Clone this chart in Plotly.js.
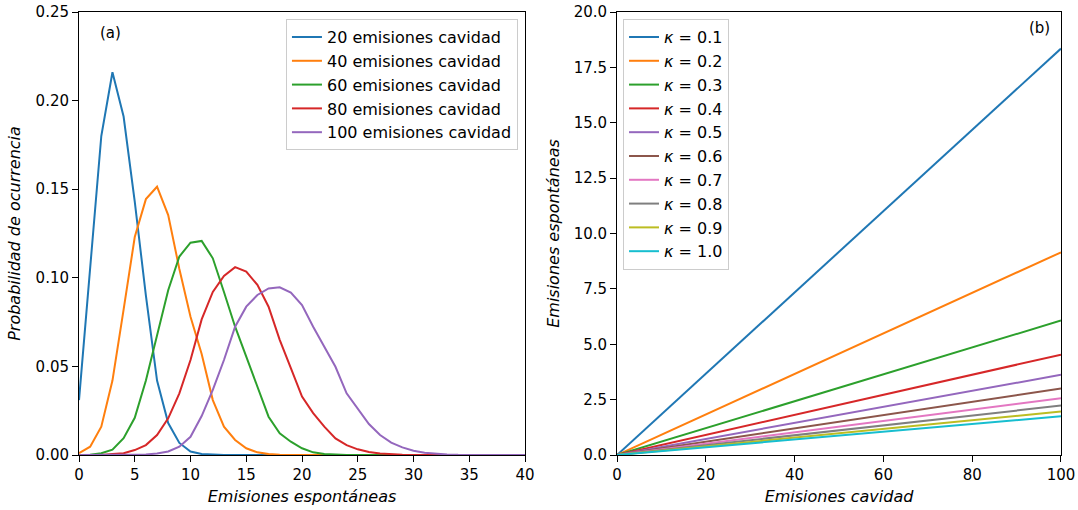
<!DOCTYPE html>
<html>
<head>
<meta charset="utf-8">
<script src="https://cdn.plot.ly/plotly-3.0.1.min.js"></script>
<style>html,body{margin:0;padding:0;background:#fff;}#chart{width:1078px;height:510px;}</style>
</head>
<body>
<div id="chart"></div>
<script>
// ---- Panel (a): probability of spontaneous emissions ----
const spontCounts = Array.from({length: 41}, (_, i) => i); // 0..40 emissions
const cavityLabels = ['20 emisiones cavidad', '40 emisiones cavidad', '60 emisiones cavidad', '80 emisiones cavidad', '100 emisiones cavidad'];
const prob20 = [0.031, 0.105, 0.180, 0.216, 0.191, 0.143, 0.090, 0.042, 0.018, 0.0068, 0.002, 0.0006, 0.0002, 0, 0, 0, 0, 0, 0, 0, 0, 0, 0, 0, 0, 0, 0, 0, 0, 0, 0, 0, 0, 0, 0, 0, 0, 0, 0, 0, 0];
const prob40 = [0.001, 0.0047, 0.016, 0.042, 0.082, 0.123, 0.1444, 0.1514, 0.1354, 0.105, 0.078, 0.057, 0.031, 0.016, 0.0085, 0.0038, 0.0015, 0.0005, 0.0002, 0, 0, 0, 0, 0, 0, 0, 0, 0, 0, 0, 0, 0, 0, 0, 0, 0, 0, 0, 0, 0, 0];
const prob60 = [0, 0.0002, 0.001, 0.003, 0.0095, 0.021, 0.042, 0.0668, 0.093, 0.112, 0.1198, 0.1208, 0.111, 0.092, 0.0724, 0.0555, 0.0385, 0.0216, 0.0122, 0.0075, 0.0038, 0.0015, 0.0006, 0.0002, 0, 0, 0, 0, 0, 0, 0, 0, 0, 0, 0, 0, 0, 0, 0, 0, 0];
const prob80 = [0, 0, 0, 0.0005, 0.001, 0.0028, 0.0056, 0.0113, 0.0207, 0.0348, 0.0536, 0.0765, 0.092, 0.101, 0.106, 0.1035, 0.096, 0.0837, 0.065, 0.049, 0.033, 0.0236, 0.016, 0.0094, 0.0056, 0.0032, 0.0017, 0.0009, 0.0004, 0.0002, 0, 0, 0, 0, 0, 0, 0, 0, 0, 0, 0];
const prob100 = [0, 0, 0, 0, 0, 0, 0.0003, 0.0008, 0.002, 0.0047, 0.0103, 0.022, 0.0367, 0.0536, 0.0724, 0.0837, 0.0903, 0.094, 0.0946, 0.0916, 0.0846, 0.0724, 0.061, 0.0498, 0.0348, 0.0263, 0.0175, 0.0113, 0.007, 0.0043, 0.0024, 0.0013, 0.0007, 0.0003, 0.0001, 0, 0, 0, 0, 0, 0];
const probSeries = [prob20, prob40, prob60, prob80, prob100];

// ---- Panel (b): spontaneous vs cavity emissions ----
const cavityRange = [0, 100];
const kappaLabels = ['0.1', '0.2', '0.3', '0.4', '0.5', '0.6', '0.7', '0.8', '0.9', '1.0'];
const spontAt0 = [0, 0, 0, 0, 0, 0, 0, 0, 0, 0];
const spontAt100 = [18.35, 9.15, 6.07, 4.53, 3.62, 3.0, 2.56, 2.23, 1.96, 1.75];

const colors = ['#1f77b4', '#ff7f0e', '#2ca02c', '#d62728', '#9467bd', '#8c564b', '#e377c2', '#7f7f7f', '#bcbd22', '#17becf'];
const FONT = 'DejaVu Sans, sans-serif';
const FS_TICK = 15;
const FS = 16;

const traces = [];
probSeries.forEach((ys, i) => {
  traces.push({
    x: spontCounts, y: ys, type: 'scatter', mode: 'lines',
    name: cavityLabels[i], line: {color: colors[i], width: 2},
    xaxis: 'x', yaxis: 'y', legend: 'legend'
  });
});
kappaLabels.forEach((k, i) => {
  traces.push({
    x: cavityRange, y: [spontAt0[i], spontAt100[i]], type: 'scatter', mode: 'lines',
    name: '<i>κ</i> = ' + k, line: {color: colors[i], width: 2},
    xaxis: 'x2', yaxis: 'y2', legend: 'legend2'
  });
});

const axisBase = {
  showgrid: false, zeroline: false, showline: true, mirror: true,
  linecolor: '#000', linewidth: 1, ticks: 'outside', ticklen: 6, tickwidth: 1,
  tickcolor: '#000', tickfont: {family: FONT, size: FS_TICK, color: '#000'}
};
const titleFont = {family: FONT, size: FS, color: '#000'};

const layout = {
  width: 1078, height: 510,
  margin: {l: 79, r: 17, t: 12, b: 55},
  paper_bgcolor: '#fff', plot_bgcolor: '#fff',
  font: {family: FONT, size: FS, color: '#000'},
  xaxis: Object.assign({}, axisBase, {domain: [0, 0.4542], range: [0, 40], tickvals: [0,5,10,15,20,25,30,35,40],
    title: {text: '<i>Emisiones espontáneas</i>', font: titleFont, standoff: 7}}),
  yaxis: Object.assign({}, axisBase, {range: [0, 0.25], tickvals: [0,0.05,0.1,0.15,0.2,0.25], tickformat: '.2f',
    title: {text: '<i>Probabilidad de ocurrencia</i>', font: titleFont, standoff: 10}}),
  xaxis2: Object.assign({}, axisBase, {domain: [0.5479, 1], anchor: 'y2', range: [0, 100], tickvals: [0,20,40,60,80,100],
    title: {text: '<i>Emisiones cavidad</i>', font: titleFont, standoff: 7}}),
  yaxis2: Object.assign({}, axisBase, {anchor: 'x2', range: [0, 20], tickvals: [0,2.5,5,7.5,10,12.5,15,17.5,20], tickformat: '.1f',
    title: {text: '<i>Emisiones espontáneas</i>', font: titleFont, standoff: 10}}),
  legend: {x: 0.447, y: 0.984, xanchor: 'right', yanchor: 'top', bgcolor: 'rgba(255,255,255,0.8)',
    bordercolor: '#cccccc', borderwidth: 1, font: {family: FONT, size: FS, color: '#000'}, tracegroupgap: 0},
  legend2: {x: 0.554, y: 0.984, xanchor: 'left', yanchor: 'top', bgcolor: 'rgba(255,255,255,0.8)',
    bordercolor: '#cccccc', borderwidth: 1, font: {family: FONT, size: FS, color: '#000'}, tracegroupgap: 0},
  showlegend: true,
  annotations: [
    {text: '(a)', xref: 'paper', yref: 'paper', x: 0.0316, y: 0.9526, showarrow: false, xanchor: 'center', yanchor: 'middle', font: {family: FONT, size: FS_TICK, color: '#000'}},
    {text: '(b)', xref: 'paper', yref: 'paper', x: 0.9786, y: 0.964, showarrow: false, xanchor: 'center', yanchor: 'middle', font: {family: FONT, size: FS_TICK, color: '#000'}}
  ]
};

Plotly.newPlot('chart', traces, layout, {displayModeBar: false, staticPlot: true});
</script>
</body>
</html>
